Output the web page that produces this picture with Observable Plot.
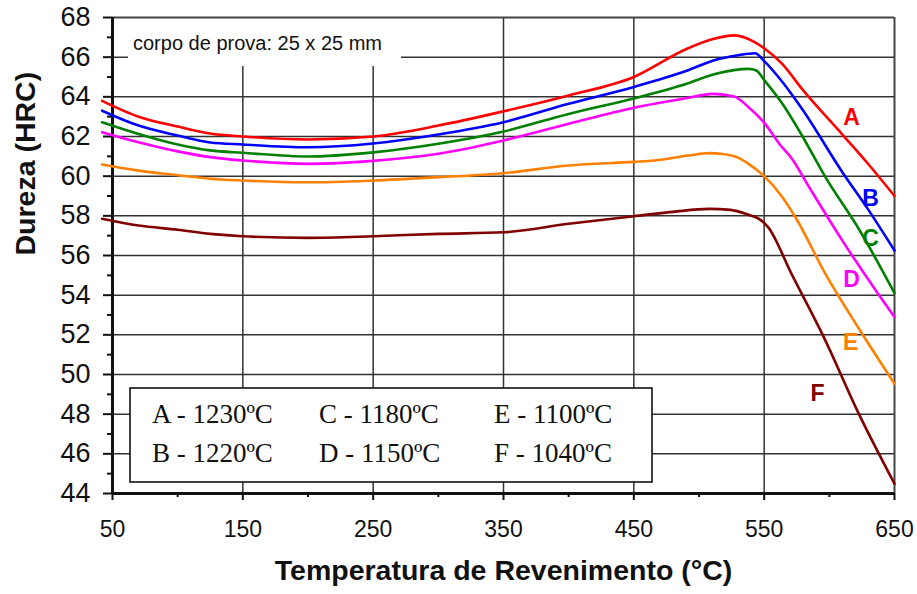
<!DOCTYPE html>
<html><head><meta charset="utf-8">
<script src="https://cdn.jsdelivr.net/npm/d3@7"></script>
<script src="https://cdn.jsdelivr.net/npm/@observablehq/plot@0.6"></script>
<style>
html,body{margin:0;padding:0;background:#fff;}
#chart svg{display:block;}
</style></head><body><div id="chart"></div>
<script>
// ---- data ----
const seriesNames = ["A", "B", "C", "D", "E", "F"];
const seriesColors = ["#ff0000", "#0000ff", "#008000", "#ff00ff", "#ff8000", "#800000"];

const tempA = [42, 70, 100, 125, 150, 200, 250, 300, 350, 400, 450, 490, 510, 527, 543, 550, 564, 579, 610, 630, 650];
const hrcA  = [63.8, 63.0, 62.5, 62.15, 62.0, 61.85, 62.0, 62.55, 63.27, 64.07, 65.0, 66.4, 66.9, 67.1, 66.75, 66.45, 65.65, 64.4, 62.1, 60.6, 59.0];

const tempB = [42, 70, 100, 125, 150, 200, 250, 300, 350, 400, 450, 490, 513, 530, 543, 550, 564, 579, 610, 630, 650];
const hrcB  = [63.3, 62.55, 62.05, 61.7, 61.6, 61.46, 61.65, 62.1, 62.72, 63.65, 64.5, 65.3, 65.87, 66.1, 66.2, 65.8, 64.75, 63.4, 60.2, 58.3, 56.25];

const tempC = [42, 70, 100, 125, 150, 200, 250, 300, 350, 400, 450, 490, 513, 538, 544, 550, 564, 579, 597, 623, 650];
const hrcC  = [62.72, 62.13, 61.6, 61.3, 61.18, 60.99, 61.2, 61.63, 62.25, 63.14, 63.92, 64.65, 65.16, 65.41, 65.33, 64.85, 63.65, 62.05, 59.95, 57.3, 54.1];

const tempD = [42, 70, 100, 125, 150, 200, 250, 300, 350, 400, 450, 490, 511, 527, 538, 550, 562, 571, 584, 610, 635, 650];
const hrcD  = [62.22, 61.71, 61.25, 60.96, 60.79, 60.62, 60.77, 61.13, 61.8, 62.64, 63.45, 63.93, 64.15, 64.02, 63.48, 62.7, 61.6, 60.9, 59.5, 56.75, 54.3, 52.9];

const tempE = [42, 70, 100, 125, 150, 200, 250, 300, 350, 400, 450, 466, 492, 508, 518, 529, 538, 550, 564, 574, 597, 622, 650];
const hrcE  = [60.59, 60.28, 60.05, 59.87, 59.78, 59.69, 59.78, 59.95, 60.15, 60.54, 60.72, 60.79, 61.04, 61.16, 61.12, 60.96, 60.62, 60.0, 58.94, 57.93, 55.07, 52.38, 49.53];

const tempF = [42, 70, 100, 125, 150, 200, 250, 300, 350, 400, 450, 480, 508, 524, 538, 546, 553, 571, 597, 622, 650];
const hrcF  = [57.85, 57.51, 57.3, 57.09, 56.97, 56.89, 56.97, 57.09, 57.17, 57.6, 57.98, 58.2, 58.35, 58.3, 58.05, 57.85, 57.43, 55.07, 51.71, 48.1, 44.49];

const legendLabels = ["A - 1230ºC", "B - 1220ºC", "C - 1180ºC", "D - 1150ºC", "E - 1100ºC", "F - 1040ºC"];
const curveLabelTemp = [617, 631.6, 631.6, 617, 616.3, 591];
const curveLabelHrc  = [62.96, 58.87, 56.86, 54.79, 51.61, 49.04];

const xMajorTicks = [50, 150, 250, 350, 450, 550, 650];
const xMinorTicks = [100, 200, 300, 400, 500, 600];
const xGridTicks = [150, 250, 350, 450, 550];
const yMajorTicks = [44, 46, 48, 50, 52, 54, 56, 58, 60, 62, 64, 66, 68];
const yMinorTicks = [45, 47, 49, 51, 53, 55, 57, 59, 61, 63, 65, 67];
const yGridTicks = [46, 48, 50, 52, 54, 56, 58, 60, 62, 64, 66];

const noteText = "corpo de prova: 25 x 25 mm";
const xTitle = "Temperatura de Revenimento (°C)";
const yTitle = "Dureza (HRC)";

// ---- build table ----
const temps = [tempA, tempB, tempC, tempD, tempE, tempF];
const hrcs = [hrcA, hrcB, hrcC, hrcD, hrcE, hrcF];
const rows = [];
seriesNames.forEach((s, i) => temps[i].forEach((t, j) => rows.push({serie: s, temp: t, hrc: hrcs[i][j]})));
const labelRows = seriesNames.map((s, i) => ({serie: s, temp: curveLabelTemp[i], hrc: curveLabelHrc[i]}));

const sans = "'Liberation Sans', Arial, sans-serif";
const serif = "'Liberation Serif', 'Times New Roman', serif";

function noteBox(index, scales, values, dim) {
  const g = d3.create("svg:g");
  g.append("rect")
    .attr("x", dim.marginLeft + 16).attr("y", dim.marginTop + 1)
    .attr("width", 273).attr("height", 48).attr("fill", "white");
  g.append("text")
    .attr("x", dim.marginLeft + 21).attr("y", dim.marginTop + 33)
    .attr("text-anchor", "start")
    .attr("font-family", sans).attr("font-size", 20).attr("fill", "#111")
    .text(noteText);
  return g.node();
}

function legendBox(index, scales, values, dim) {
  const g = d3.create("svg:g");
  const bottom = dim.height - dim.marginBottom;
  g.append("rect")
    .attr("x", dim.marginLeft + 18).attr("y", bottom - 105)
    .attr("width", 522).attr("height", 94)
    .attr("fill", "white").attr("stroke", "#111").attr("stroke-width", 1.6);
  const colX = [40, 207, 382];
  const rowY = [70, 31];
  legendLabels.forEach((lab, i) => {
    const col = Math.floor(i / 2), row = i % 2;
    g.append("text")
      .attr("x", dim.marginLeft + colX[col]).attr("y", bottom - rowY[row])
      .attr("text-anchor", "start")
      .attr("font-family", serif).attr("font-size", 27).attr("fill", "#111")
      .text(lab);
  });
  return g.node();
}

const chart = Plot.plot({
  width: 917,
  height: 594,
  marginLeft: 112,
  marginRight: 23,
  marginTop: 17,
  marginBottom: 101,
  style: {background: "white", fontFamily: sans, color: "#111"},
  x: {domain: [50, 650]},
  y: {domain: [44, 68]},
  color: {domain: seriesNames, range: seriesColors},
  marks: [
    Plot.gridY(yGridTicks, {stroke: "#333", strokeOpacity: 1, strokeWidth: 1.5}),
    Plot.gridX(xGridTicks, {stroke: "#333", strokeOpacity: 1, strokeWidth: 1.5}),
    noteBox,
    Plot.ruleY([68], {stroke: "#444", strokeWidth: 2}),
    Plot.ruleX([650], {stroke: "#444", strokeWidth: 2}),
    Plot.axisY(yMajorTicks, {tickSize: 9, tickPadding: 13, fontSize: 27, strokeWidth: 2, stroke: "#111", label: null}),
    Plot.axisY(yMinorTicks, {tickSize: 5, tickFormat: () => "", strokeWidth: 2, stroke: "#111", label: null}),
    Plot.axisX(xMajorTicks, {tickSize: 7, tickPadding: 20, fontSize: 23, strokeWidth: 2, stroke: "#111", label: null}),
    Plot.axisX(xMinorTicks, {tickSize: 4, tickFormat: () => "", strokeWidth: 2, stroke: "#111", label: null}),
    Plot.ruleX([50], {stroke: "#111", strokeWidth: 3}),
    Plot.ruleY([44], {stroke: "#111", strokeWidth: 3}),
    Plot.line(rows, {x: "temp", y: "hrc", z: "serie", stroke: "serie", strokeWidth: 2.6, curve: "monotone-x"}),
    legendBox,
    Plot.text(labelRows, {x: "temp", y: "hrc", text: "serie", fill: "serie", fontSize: 23, fontWeight: "bold"}),
    Plot.text([yTitle], {frameAnchor: "left", rotate: -90, dx: -87, fontSize: 28.5, fontWeight: "bold", fill: "#111"}),
    Plot.text([xTitle], {frameAnchor: "bottom", dy: 86, fontSize: 28.5, fontWeight: "bold", fill: "#111"})
  ]
});
document.getElementById("chart").append(chart);
</script>
</body></html>
